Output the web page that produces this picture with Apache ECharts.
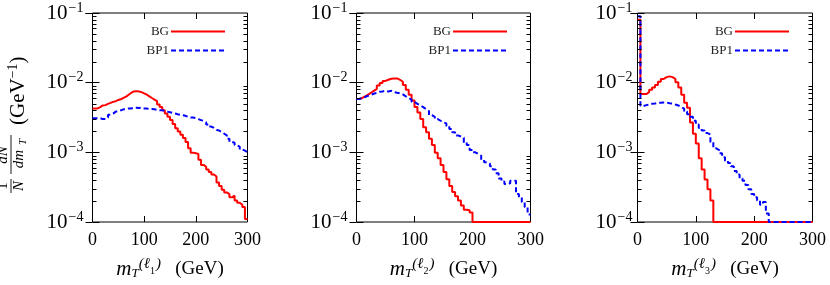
<!DOCTYPE html>
<html>
<head>
<meta charset="utf-8">
<script src="https://cdn.jsdelivr.net/npm/echarts@6/dist/echarts.min.js"></script>
<style>
  html, body { margin: 0; padding: 0; background: #fff; }
  #main { width: 830px; height: 285px; }
</style>
</head>
<body>
<div id="main"></div>
<script>
// bin width of the histograms (GeV), x range 0..300
var binWidth = 5
var xMax = 300
var yMin = 1e-4
var yMax = 1e-1
var seriesNames = ['BG', 'BP1']
// minor ticks of the log axis
var minorTicks = [2e-4, 3e-4, 4e-4, 5e-4, 6e-4, 7e-4, 8e-4, 9e-4,
  2e-3, 3e-3, 4e-3, 5e-3, 6e-3, 7e-3, 8e-3, 9e-3,
  2e-2, 3e-2, 4e-2, 5e-2, 6e-2, 7e-2, 8e-2, 9e-2]

// panel 1 : m_T(l1)
var bgL1 = [4.27e-3, 4.27e-3, 4.46e-3, 4.71e-3, 4.76e-3, 4.97e-3, 5.13e-3, 5.30e-3, 5.42e-3, 5.65e-3,
  5.78e-3, 6.03e-3, 6.30e-3, 6.72e-3, 7.16e-3, 7.48e-3, 7.56e-3, 7.48e-3, 7.32e-3, 7.01e-3,
  6.72e-3, 6.37e-3, 6.03e-3, 5.71e-3, 5.42e-3, 4.86e-3, 4.46e-3, 4.01e-3, 3.60e-3, 3.23e-3,
  2.90e-3, 2.55e-3, 2.22e-3, 1.99e-3, 1.79e-3, 1.61e-3, 1.41e-3, 1.14e-3, 9.9e-4, 9.7e-4,
  9.5e-4, 7.8e-4, 6.6e-4, 6.2e-4, 5.65e-4, 5.2e-4, 4.8e-4, 4.5e-4, 3.7e-4, 3.3e-4,
  2.9e-4, 2.66e-4, 2.52e-4, 2.26e-4, 2.39e-4, 2.03e-4, 1.89e-4, 1.77e-4, 1.64e-4, 1.10e-4]
var bp1L1 = [3.09e-3, 3.09e-3, 3.09e-3, 3.00e-3, 3.00e-3, 3.16e-3, 3.45e-3, 3.60e-3, 3.84e-3, 3.92e-3,
  4.01e-3, 4.14e-3, 4.18e-3, 4.27e-3, 4.27e-3, 4.37e-3, 4.37e-3, 4.32e-3, 4.37e-3, 4.27e-3,
  4.27e-3, 4.18e-3, 4.18e-3, 4.14e-3, 4.09e-3, 4.01e-3, 4.01e-3, 3.92e-3, 3.84e-3, 3.76e-3,
  3.68e-3, 3.60e-3, 3.52e-3, 3.45e-3, 3.41e-3, 3.34e-3, 3.23e-3, 3.16e-3, 3.16e-3, 3.09e-3,
  3.00e-3, 2.90e-3, 2.84e-3, 2.69e-3, 2.50e-3, 2.34e-3, 2.24e-3, 2.10e-3, 2.06e-3, 1.95e-3,
  1.85e-3, 1.75e-3, 1.57e-3, 1.41e-3, 1.37e-3, 1.27e-3, 1.20e-3, 1.10e-3, 1.06e-3, 1.00e-3]

// panel 2 : m_T(l2)   (0 = empty bin)
var bgL2 = [5.84e-3, 6.03e-3, 6.37e-3, 6.72e-3, 7.16e-3, 7.64e-3, 8.15e-3, 9.08e-3, 9.89e-3, 1.06e-2,
  1.10e-2, 1.14e-2, 1.15e-2, 1.15e-2, 1.10e-2, 1.03e-2, 9.28e-3, 7.89e-3, 6.72e-3, 5.53e-3,
  4.46e-3, 3.72e-3, 3.00e-3, 2.29e-3, 1.95e-3, 1.57e-3, 1.27e-3, 9.9e-4, 8.2e-4, 6.6e-4,
  5.2e-4, 4.1e-4, 3.3e-4, 2.7e-4, 2.34e-4, 2.03e-4, 1.73e-4, 1.50e-4, 1.47e-4, 1.37e-4,
  0, 0, 0, 0, 0, 0, 0, 0, 0, 0,
  0, 0, 0, 0, 0, 0, 0, 0, 0, 0]
var bp1L2 = [5.84e-3, 6.03e-3, 6.23e-3, 6.50e-3, 6.72e-3, 6.94e-3, 7.16e-3, 7.40e-3, 7.48e-3, 7.64e-3,
  7.48e-3, 7.64e-3, 7.32e-3, 7.16e-3, 7.01e-3, 6.79e-3, 6.37e-3, 6.03e-3, 5.71e-3, 5.30e-3,
  4.97e-3, 4.71e-3, 4.46e-3, 4.18e-3, 3.92e-3, 3.41e-3, 3.23e-3, 3.00e-3, 2.84e-3, 2.69e-3,
  2.60e-3, 2.39e-3, 2.17e-3, 1.95e-3, 1.75e-3, 1.69e-3, 1.62e-3, 1.37e-3, 1.27e-3, 1.08e-3,
  1.00e-3, 9.5e-4, 8.9e-4, 7.8e-4, 7.2e-4, 6.9e-4, 6.3e-4, 5.65e-4, 5.0e-4, 4.2e-4,
  3.8e-4, 3.5e-4, 3.6e-4, 3.9e-4, 3.9e-4, 2.52e-4, 2.26e-4, 1.93e-4, 1.64e-4, 1.28e-4]

// panel 3 : m_T(l3)
var bgL3 = [8.0e-2, 6.86e-3, 6.86e-3, 7.32e-3, 7.89e-3, 8.51e-3, 9.28e-3, 1.03e-2, 1.13e-2, 1.20e-2,
  1.23e-2, 1.20e-2, 1.13e-2, 1.01e-2, 8.51e-3, 6.72e-3, 5.13e-3, 4.37e-3, 2.69e-3, 1.85e-3,
  1.34e-3, 8.2e-4, 5.65e-4, 4.09e-4, 2.96e-4, 2.03e-4, 0, 0, 0, 0,
  0, 0, 0, 0, 0, 0, 0, 0, 0, 0,
  0, 0, 0, 0, 0, 0, 0, 0, 0, 0,
  0, 0, 0, 0, 0, 0, 0, 0, 0, 0]
var bp1L3 = [9.0e-2, 4.61e-3, 4.76e-3, 4.86e-3, 4.97e-3, 5.02e-3, 5.13e-3, 5.13e-3, 5.19e-3, 5.19e-3,
  5.08e-3, 5.02e-3, 4.86e-3, 4.71e-3, 4.46e-3, 4.23e-3, 3.84e-3, 3.52e-3, 3.23e-3, 2.84e-3,
  2.50e-3, 2.24e-3, 2.06e-3, 1.89e-3, 1.81e-3, 1.41e-3, 1.14e-3, 1.08e-3, 9.7e-4, 8.5e-4,
  7.6e-4, 7.0e-4, 6.3e-4, 5.4e-4, 4.8e-4, 4.2e-4, 3.9e-4, 3.4e-4, 2.96e-4, 2.52e-4,
  2.26e-4, 2.03e-4, 1.77e-4, 1.93e-4, 1.32e-4, 0, 0, 0, 0, 0,
  0, 0, 0, 0, 0, 0, 0, 0, 0, 0]

var panels = [
  { bg: bgL1, bp: bp1L1, idx: '1', grid: { left: 92.5, top: 13, width: 155, height: 214 }, legendRight: 604, labelMargin: 9 },
  { bg: bgL2, bp: bp1L2, idx: '2', grid: { left: 356.5, top: 13, width: 174, height: 214 }, legendRight: 322, labelMargin: 9 },
  { bg: bgL3, bp: bp1L3, idx: '3', grid: { left: 637.5, top: 13, width: 175, height: 214 }, legendRight: 40, labelMargin: 5 }
]

var serif = '"Liberation Serif", "DejaVu Serif", serif'

// histogram -> step points at bin left edges (empty bins sit on the axis floor)
function hist(vals) {
  var pts = vals.map(function (v, i) {
    return [i * binWidth, v > 0 ? v : yMin]
  })
  pts.push([xMax, pts[pts.length - 1][1]])
  return pts
}

function yLabel(v) {
  var e = Math.round(Math.log(v) / Math.LN10)
  return '{b|10}{s|\u2212' + (-e) + '}'
}

var grid = [], xAxis = [], yAxis = [], series = [], legend = []

panels.forEach(function (p, i) {
  grid.push(Object.assign({ show: true, borderColor: '#000', borderWidth: 1, containLabel: false }, p.grid))
  legend.push({
    data: seriesNames, orient: 'vertical', right: p.legendRight, top: 24, padding: 0,
    align: 'right', itemWidth: 54, itemHeight: 10, itemGap: 4, selectedMode: false,
    itemStyle: { opacity: 0 },
    textStyle: { fontFamily: serif, fontSize: 13, color: '#222', lineHeight: 15, padding: [0, -3, 0, 0] }
  })
})

// bottom x axes with labels
panels.forEach(function (p, i) {
  xAxis.push({
    type: 'value', gridIndex: i, min: 0, max: xMax, interval: 100, position: 'bottom',
    axisLine: { show: false },
    axisTick: { inside: true, length: 6, lineStyle: { color: '#000' } },
    axisLabel: { margin: 9, fontFamily: serif, fontSize: 18, color: '#000' },
    splitLine: { show: false },
    name: '{i|m}{sub|T}{sup|(\u2113}{ss|' + p.idx + '}{sup|)}{n|   (GeV)}',
    nameLocation: 'middle', nameGap: 35,
    nameTextStyle: {
      rich: {
        i: { fontFamily: serif, fontStyle: 'italic', fontSize: 21, color: '#000' },
        sub: { fontFamily: serif, fontStyle: 'italic', fontSize: 13, color: '#000', verticalAlign: 'top', padding: [10, 0, 0, 0] },
        sup: { fontFamily: serif, fontStyle: 'italic', fontSize: 15, color: '#000', verticalAlign: 'bottom', padding: [0, 0, 10, 0] },
        ss: { fontFamily: serif, fontSize: 10, color: '#000', verticalAlign: 'bottom', padding: [0, 1, 6, 0] },
        n: { fontFamily: serif, fontSize: 19, color: '#000' }
      }
    }
  })
})
// top x axes, ticks only
panels.forEach(function (p, i) {
  xAxis.push({
    type: 'value', gridIndex: i, min: 0, max: xMax, interval: 100, position: 'top',
    axisLine: { show: false },
    axisTick: { inside: true, length: 6, lineStyle: { color: '#000' } },
    axisLabel: { show: false }, splitLine: { show: false }
  })
})
// left y axes with labels
panels.forEach(function (p, i) {
  yAxis.push({
    type: 'log', logBase: 10, gridIndex: i, min: yMin, max: yMax, position: 'left',
    axisLine: { show: false },
    axisTick: { inside: true, length: 7, lineStyle: { color: '#000' } },
    splitLine: { show: false },
    axisLabel: {
      margin: p.labelMargin, formatter: yLabel,
      rich: {
        b: { fontFamily: serif, fontSize: 21, color: '#000' },
        s: { fontFamily: serif, fontSize: 14, color: '#000', verticalAlign: 'bottom', padding: [0, 0, 10, 1] }
      }
    }
  })
})
// right y axes, ticks only
panels.forEach(function (p, i) {
  yAxis.push({
    type: 'log', logBase: 10, gridIndex: i, min: yMin, max: yMax, position: 'right',
    axisLine: { show: false },
    axisTick: { inside: true, length: 7, lineStyle: { color: '#000' } },
    axisLabel: { show: false }, splitLine: { show: false }
  })
})

panels.forEach(function (p, i) {
  series.push({
    name: 'BG', type: 'line', xAxisIndex: i, yAxisIndex: i, step: 'end',
    symbol: 'none', data: hist(p.bg), z: 3,
    lineStyle: { color: '#ff0000', width: 2 }, itemStyle: { color: '#ff0000' }
  })
  series.push({
    name: 'BP1', type: 'line', xAxisIndex: i, yAxisIndex: i, step: 'end',
    symbol: 'none', data: hist(p.bp), z: 4,
    lineStyle: { color: '#0000ff', width: 2, type: [5, 3] }, itemStyle: { color: '#0000ff' }
  })
  // minor ticks on both sides of the log axis
  series.push({
    type: 'custom', xAxisIndex: i, yAxisIndex: i, silent: true, z: 5,
    data: minorTicks.map(function (v) { return [0, v] }),
    renderItem: function (params, api) {
      var a = api.coord([0, api.value(1)])
      var b = api.coord([xMax, api.value(1)])
      var y = Math.round(a[1]) + 0.5
      return {
        type: 'group',
        children: [
          { type: 'line', shape: { x1: a[0], y1: y, x2: a[0] + 4, y2: y }, style: { stroke: '#000', lineWidth: 1 } },
          { type: 'line', shape: { x1: b[0] - 4, y1: y, x2: b[0], y2: y }, style: { stroke: '#000', lineWidth: 1 } }
        ]
      }
    }
  })
})

var txt = function (text, x, y, size, italic) {
  return {
    type: 'text', x: x, y: y,
    style: {
      text: text, fontFamily: serif, fontSize: size, fontStyle: italic ? 'italic' : 'normal',
      fill: '#000', align: 'center', verticalAlign: 'middle'
    }
  }
}
var bar = function (x1, x2) {
  return { type: 'line', shape: { x1: x1, y1: 0, x2: x2, y2: 0 }, style: { stroke: '#000', lineWidth: 0.9 } }
}

var yTitle = {
  type: 'group', x: 11, y: 122, rotation: Math.PI / 2,
  children: [
    txt('1', -64, -8, 15, false),
    bar(-71, -57),
    txt('N', -64, 8, 15, true),
    txt('dN', -33, -8, 15, true),
    bar(-52, -13),
    txt('dm', -37, 8, 15, true),
    txt('T', -20, 12, 11, true),
    {
      type: 'text', x: -3, y: 7,
      style: {
        text: '(GeV{s|\u22121})', fontFamily: serif, fontSize: 21, fill: '#000',
        align: 'left', verticalAlign: 'middle',
        rich: { s: { fontFamily: serif, fontSize: 14, fill: '#000', verticalAlign: 'bottom', padding: [0, 0, 9, 0] } }
      }
    }
  ]
}

var myChart = echarts.init(document.getElementById('main'))
myChart.setOption({
  animation: false,
  backgroundColor: '#fff',
  grid: grid,
  legend: legend,
  xAxis: xAxis,
  yAxis: yAxis,
  series: series,
  graphic: [yTitle]
})
</script>
</body>
</html>
